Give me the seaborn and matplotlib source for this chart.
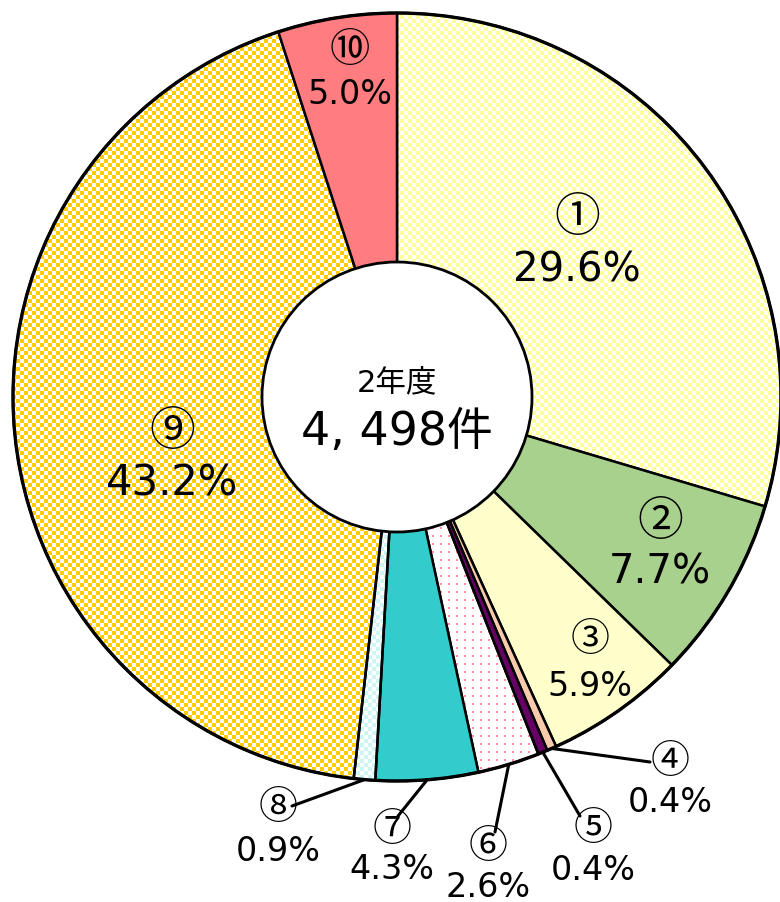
import numpy as np
import matplotlib
matplotlib.use("Agg")
import matplotlib.pyplot as plt
from matplotlib.patches import Circle
import seaborn as sns

# Breakdown of the 4,498 cases (percent)
labels = ["①", "②", "③", "④", "⑤", "⑥", "⑦", "⑧", "⑨", "⑩"]
shares = [29.6, 7.7, 5.9, 0.4, 0.4, 2.6, 4.3, 0.9, 43.2, 5.0]
total_cases = "4, 498件"
year_label = "2年度"

# Fill styles: solid colour, checkerboard, or dotted
base_colors = ["#FFFFFF", "#A9D18E", "#FFFFCC", "#F8CBAD", "#660066",
               "#FFFFFF", "#33CCCC", "#FFFFFF", "#FFFFFF", "#FF7C80"]
patterns = {0: ("check", "#FFFF99"), 5: ("dots", "#FF8FA3"),
            7: ("check", "#CCF5F5"), 8: ("check", "#FFCC00")}

sns.set_theme(style="white")
plt.rcParams["font.family"] = ["DejaVu Sans", "Noto Sans CJK JP"]
plt.rcParams["text.color"] = "black"
circ_font = ["Noto Sans CJK JP", "DejaVu Sans"]

W, H = 780, 903
fig = plt.figure(figsize=(W / 100, H / 100), dpi=100)
ax = fig.add_axes([0, 0, 1, 1])

cx, cy, R, r_hole = 397, H - 398, 384, 135

wedges, _ = ax.pie(shares, startangle=90, counterclock=False,
                   center=(cx, cy), radius=R, colors=base_colors,
                   wedgeprops=dict(edgecolor="black", linewidth=1.8),
                   frame=True)
ax.set_xlim(0, W)
ax.set_ylim(0, H)
ax.set_aspect("equal")
ax.axis("off")


def hex_rgb(h):
    h = h.lstrip("#")
    return np.array([int(h[i:i + 2], 16) / 255 for i in (0, 2, 4)])


yy, xx = np.mgrid[0:H, 0:W]
for idx, (kind, col) in patterns.items():
    img = np.ones((H, W, 3))
    c = hex_rgb(col)
    if kind == "check":
        mask = ((xx // 4 + yy // 4) % 2) == 0
    else:
        mask = ((xx % 8) < 2) & ((yy % 8) < 2)
    img[mask] = c
    im = ax.imshow(img, extent=(0, W, 0, H), origin="upper",
                   interpolation="nearest", zorder=0.5)
    im.set_clip_path(wedges[idx])
    wedges[idx].set_facecolor("none")

# Outer rim and centre hole
ax.add_patch(Circle((cx, cy), R, fill=False, edgecolor="black", lw=2.4, zorder=3))
ax.add_patch(Circle((cx, cy), r_hole, facecolor="white", edgecolor="black",
                    lw=2.0, zorder=4))
ax.text(cx, H - 383, year_label, ha="center", va="center", fontsize=22, zorder=5)
ax.text(cx, H - 432, total_cases, ha="center", va="center", fontsize=33, zorder=5)

# Labels inside the ring
inside = {0: (577, 218, 270, 29, 33), 1: (660, 522, 573, 29, 33),
          2: (590, 640, 686, 24, 28), 8: (172, 432, 484, 30, 33),
          9: (350, 50, 94, 24, 29)}
for i, (x, y1, y2, fs, cfs) in inside.items():
    ax.text(x, H - y1, labels[i], ha="center", va="center", fontsize=cfs,
            family=circ_font, zorder=5)
    ax.text(x, H - y2, f"{shares[i]}%", ha="center", va="center", fontsize=fs, zorder=5)

# Outside labels with leader lines from the slice midpoints
outside = {3: (670, 762, 803, (650, 763)), 4: (593, 829, 871, (580, 817)),
           5: (488, 847, 888, (495, 833)), 6: (392, 830, 870, (398, 817)),
           7: (278, 808, 852, (292, 807))}
cum = np.cumsum([0] + shares)
for i, (x, y1, y2, end) in outside.items():
    mid = (cum[i] + cum[i + 1]) / 2 / 100 * 2 * np.pi
    sx, sy = cx + R * np.sin(mid), cy + R * np.cos(mid)
    ax.plot([sx, end[0]], [sy, H - end[1]], color="black", lw=2.2, zorder=2)
    ax.text(x, H - y1, labels[i], ha="center", va="center", fontsize=28,
            family=circ_font, zorder=5)
    ax.text(x, H - y2, f"{shares[i]}%", ha="center", va="center", fontsize=24, zorder=5)

fig.savefig("out.png", dpi=100)
